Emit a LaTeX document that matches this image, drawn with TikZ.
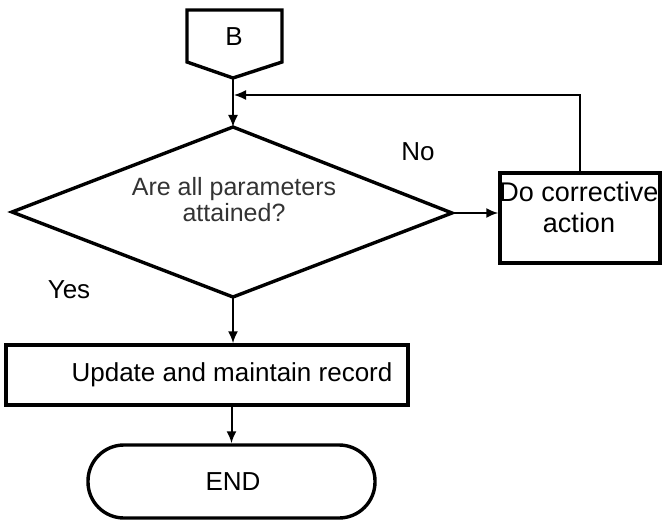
\documentclass[tikz,border=0pt]{standalone}
\usepackage{fontspec}
\setmainfont{Liberation Sans}
\usetikzlibrary{arrows.meta}
\begin{document}
\begin{tikzpicture}[x=1pt,y=-1pt,
  shapeline/.style={draw=black, line width=3.4pt, line join=miter},
  flow/.style={draw=black, line width=2pt, -{Latex[length=12pt,width=10pt]}},
  backflow/.style={draw=black, line width=1.4pt, -{Latex[length=12pt,width=10pt]}},
  label/.style={font=\fontsize{26}{28}\selectfont, inner sep=0pt},
]
\useasboundingbox (0,0) rectangle (663,521);

% off-page connector B
\draw[shapeline] (187,10) -- (282,10) -- (282,62) -- (233,78) -- (187,62) -- cycle;
\coordinate (Bout) at (233,78);
\node[label] (Btxt) at (234,37) {B};

% decision
\draw[shapeline] (233,127) -- (452,213) -- (233,297) -- (12,212) -- cycle;
\coordinate (dtop) at (233,127);
\coordinate (dright) at (452,213);
\coordinate (dbottom) at (233,297);
\node[label, align=center, text=black!80, font=\fontsize{25}{26}\selectfont] (question) at (234,200) {Are all parameters\\attained?};

% corrective action
\node[shapeline, minimum width=160pt, minimum height=90pt, inner sep=0pt] (fix) at (580,218) {};
\node[label, align=center, font=\fontsize{27}{31}\selectfont] (fixtxt) at (579,207) {Do corrective\\action};

% record keeping
\node[shapeline, minimum width=402pt, minimum height=60pt, inner sep=0pt] (upd) at (207,375) {};
\node[label] (updtxt) at (232,375) {Update and maintain record};

% terminator
\node[shapeline, rounded corners=36pt, minimum width=287pt, minimum height=73pt, inner sep=0pt] (end) at (231.5,481.5) {};
\node[label] (endtxt) at (233,482) {END};

% branch labels
\node[label] (no) at (418,152) {No};
\node[label] (yes) at (69,290) {Yes};

% connectors
\coordinate (join) at (234,95);
\draw[flow] (Bout) -- (dtop);
\draw[flow] (dright) -- (dright -| fix.west);
\draw[backflow] (fix.north) |- (join);
\draw[flow] (dbottom) -- (dbottom |- upd.north);
\draw[flow] (end.north |- upd.south) -- (end.north);
\end{tikzpicture}
\end{document}
